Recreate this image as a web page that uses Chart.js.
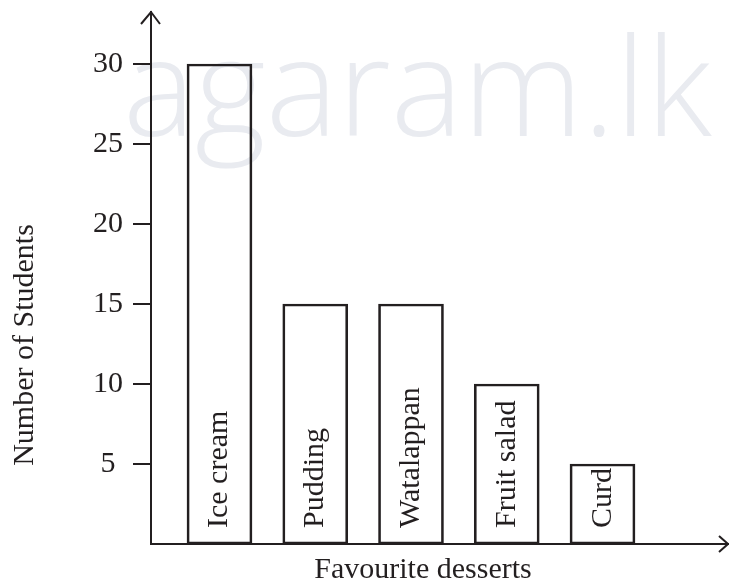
<!DOCTYPE html>
<html>
<head>
<meta charset="utf-8">
<script src="https://cdn.jsdelivr.net/npm/chart.js@4/dist/chart.umd.min.js"></script>
<style>
  html, body { margin: 0; padding: 0; background: #ffffff; }
  #wrap { width: 729px; height: 584px; position: relative; }
</style>
</head>
<body>
<div id="wrap"><canvas id="c"></canvas></div>
<script>
// ---- data ----
const categories = ["Ice cream", "Pudding", "Watalappan", "Fruit salad", "Curd"];
const students = [30, 15, 15, 10, 5];
const yTicks = [5, 10, 15, 20, 25, 30];
const xTitle = "Favourite desserts";
const yTitle = "Number of Students";
const watermark = "agaram.lk";

const INK = "#231f20";
const SERIF = '"Liberation Serif", "Times New Roman", serif';

const decor = {
  id: "decor",
  beforeDraw(chart) {
    const ctx = chart.ctx;
    ctx.save();
    ctx.fillStyle = "#e9ebf0";
    ctx.font = '300 136px "Open Sans", "DejaVu Sans", sans-serif';
    ctx.textAlign = "left";
    ctx.textBaseline = "alphabetic";
    ctx.fillText(watermark, 123, 136);
    ctx.restore();
  },
  afterDraw(chart) {
    const ctx = chart.ctx;
    const a = chart.chartArea;
    ctx.save();
    // arrows
    ctx.strokeStyle = INK;
    ctx.lineWidth = 2;
    ctx.lineCap = "butt";
    ctx.beginPath();
    ctx.moveTo(a.left - 10, a.top + 12);
    ctx.lineTo(a.left, a.top);
    ctx.lineTo(a.left + 9, a.top + 12);
    ctx.stroke();
    ctx.beginPath();
    ctx.moveTo(a.right - 9, a.bottom - 8);
    ctx.lineTo(a.right, a.bottom);
    ctx.lineTo(a.right - 9, a.bottom + 8);
    ctx.stroke();

    ctx.fillStyle = INK;
    ctx.font = "30px " + SERIF;
    // bar labels
    const meta = chart.getDatasetMeta(0);
    const yScale = chart.scales.y;
    meta.data.forEach((bar, i) => {
      ctx.save();
      ctx.translate(bar.x + 8, yScale.getPixelForValue(0) - 16);
      ctx.rotate(-Math.PI / 2);
      ctx.textAlign = "left";
      ctx.textBaseline = "alphabetic";
      ctx.fillText(categories[i], 0, 0);
      ctx.restore();
    });
    // axis titles
    ctx.textAlign = "center";
    ctx.textBaseline = "alphabetic";
    ctx.fillText(xTitle, 423, 578);
    ctx.save();
    ctx.translate(33, 345);
    ctx.rotate(-Math.PI / 2);
    ctx.fillText(yTitle, 0, 0);
    ctx.restore();
    ctx.restore();
  }
};

new Chart(document.getElementById("c"), {
  type: "bar",
  data: {
    datasets: [{
      data: students.map((v, i) => ({ x: i, y: v })),
      backgroundColor: "rgba(255,255,255,0)",
      borderColor: INK,
      borderWidth: 2,
      borderSkipped: false,
      barThickness: 65
    }]
  },
  options: {
    responsive: true,
    maintainAspectRatio: false,
    animation: false,
    devicePixelRatio: 1,
    layout: { padding: { top: 12, right: 1, left: 0, bottom: 0 } },
    plugins: { legend: { display: false }, tooltip: { enabled: false }, title: { display: false } },
    scales: {
      x: {
        type: "linear",
        offset: false,
        min: -0.7154,
        max: 5.3107,
        grid: { display: false },
        ticks: { display: false },
        border: { display: true, color: INK, width: 2 },
        afterFit(scale) { scale.height = 40; scale.paddingLeft = 0; scale.paddingRight = 0; }
      },
      y: {
        type: "linear",
        min: 0,
        max: 33.25,
        afterBuildTicks(scale) { scale.ticks = yTicks.map(v => ({ value: v })); },
        grid: { display: true, drawOnChartArea: false, drawTicks: true, tickLength: 18, color: INK, lineWidth: 2 },
        border: { display: true, color: INK, width: 2 },
        ticks: {
          color: INK,
          font: { family: SERIF, size: 30 },
          padding: 10,
          crossAlign: "center"
        },
        afterFit(scale) { scale.width = 151; scale.paddingTop = 0; scale.paddingBottom = 0; }
      }
    }
  },
  plugins: [decor]
});
</script>
</body>
</html>
